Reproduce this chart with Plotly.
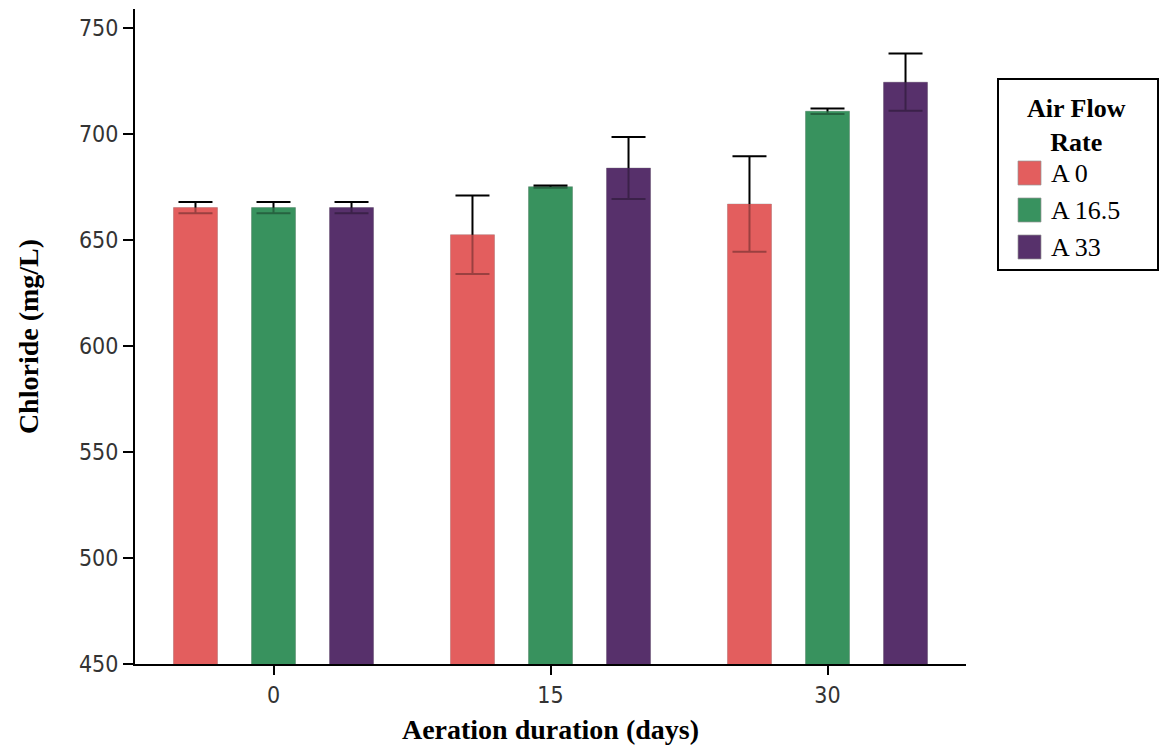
import plotly.graph_objects as go

# Chloride concentration by aeration duration and air flow rate
days = ["0", "15", "30"]
series_names = ["A 0", "A 16.5", "A 33"]
chloride_a0 = [665.3, 652.5, 667.0]
chloride_a16 = [665.3, 675.2, 710.8]
chloride_a33 = [665.3, 684.0, 724.5]
sd_a0 = [2.6, 18.5, 22.5]
sd_a16 = [2.6, 0.5, 1.3]
sd_a33 = [2.6, 14.6, 13.5]
y_ticks = [450, 500, 550, 600, 650, 700, 750]

values = [chloride_a0, chloride_a16, chloride_a33]
errors = [sd_a0, sd_a16, sd_a33]
colors = ["#E35E5E", "#38925F", "#57316B"]

W, H = 1161, 751
M_L, M_R, M_T, M_B = 135, 195, 9, 87

def px(x):
    return (x - M_L) / (W - M_L - M_R)

def py(y):
    return (H - M_B - y) / (H - M_T - M_B)

fig = go.Figure()

# bars carrying the error bars
for name, vals, err, col in zip(series_names, values, errors, colors):
    fig.add_trace(go.Bar(
        x=days, y=vals, name=name, offsetgroup=name,
        marker=dict(color=col, line=dict(color="rgba(150,150,150,0.6)", width=0.8)),
        error_y=dict(type="data", array=err, visible=True,
                     color="black", thickness=2, width=17),
        showlegend=False,
    ))

# translucent copies on top so the part of each error bar inside its bar is tinted
for name, vals, col in zip(series_names, values, colors):
    fig.add_trace(go.Bar(
        x=days, y=vals, name=name, offsetgroup=name,
        marker=dict(color=col, line=dict(width=0)),
        opacity=0.68, showlegend=False, hoverinfo="skip",
    ))

fig.update_layout(
    width=W, height=H,
    margin=dict(l=M_L, r=M_R, t=M_T, b=M_B),
    paper_bgcolor="white", plot_bgcolor="white",
    barmode="group", bargap=0.155, bargroupgap=0.436,
    showlegend=False,
    font=dict(family="Liberation Serif", color="black"),
)

fig.update_xaxes(
    type="category", categoryorder="array", categoryarray=days,
    range=[-0.5, 2.5],
    showline=True, linecolor="black", linewidth=2,
    ticks="outside", ticklen=9, tickwidth=1.5, tickcolor="black",
    tickfont=dict(family="DejaVu Sans Condensed, Roboto", size=23, color="#333333"),
    showgrid=False, zeroline=False,
    title=dict(text="<b>Aeration duration (days)</b>",
               font=dict(family="Liberation Serif", size=28, color="black"),
               standoff=13),
)

fig.update_yaxes(
    range=[450, 759], tickvals=y_ticks, ticktext=[str(v) for v in y_ticks],
    showline=True, linecolor="black", linewidth=2,
    ticks="outside", ticklen=10, tickwidth=1.5, tickcolor="black",
    tickfont=dict(family="DejaVu Sans Condensed, Roboto", size=23, color="#333333"),
    showgrid=False, zeroline=False,
    title=dict(text="<b>Chloride (mg/L)</b>",
               font=dict(family="Liberation Serif", size=28, color="black"),
               standoff=32),
)

# legend box drawn on the paper
shapes = [dict(type="rect", xref="paper", yref="paper",
               x0=px(998), x1=px(1158), y0=py(79), y1=py(270),
               line=dict(color="black", width=2), fillcolor="white", layer="below")]
annotations = [dict(text="<b>Air Flow<br>Rate</b>", xref="paper", yref="paper",
                    x=px(1076), y=py(125), xanchor="center", yanchor="middle",
                    showarrow=False, align="center",
                    font=dict(family="Liberation Serif", size=26, color="black"))]
item_centers = [173, 210, 247]
for name, col, yc in zip(series_names, colors, item_centers):
    shapes.append(dict(type="rect", xref="paper", yref="paper",
                       x0=px(1018), x1=px(1041), y0=py(yc + 12), y1=py(yc - 12),
                       fillcolor=col, line=dict(color="rgba(150,150,150,0.7)", width=1)))
    annotations.append(dict(text=name, xref="paper", yref="paper",
                            x=px(1049), y=py(yc), xanchor="left", yanchor="middle",
                            showarrow=False,
                            font=dict(family="Liberation Serif", size=26, color="black")))

fig.update_layout(shapes=shapes, annotations=annotations)

fig.write_html("out.html")
